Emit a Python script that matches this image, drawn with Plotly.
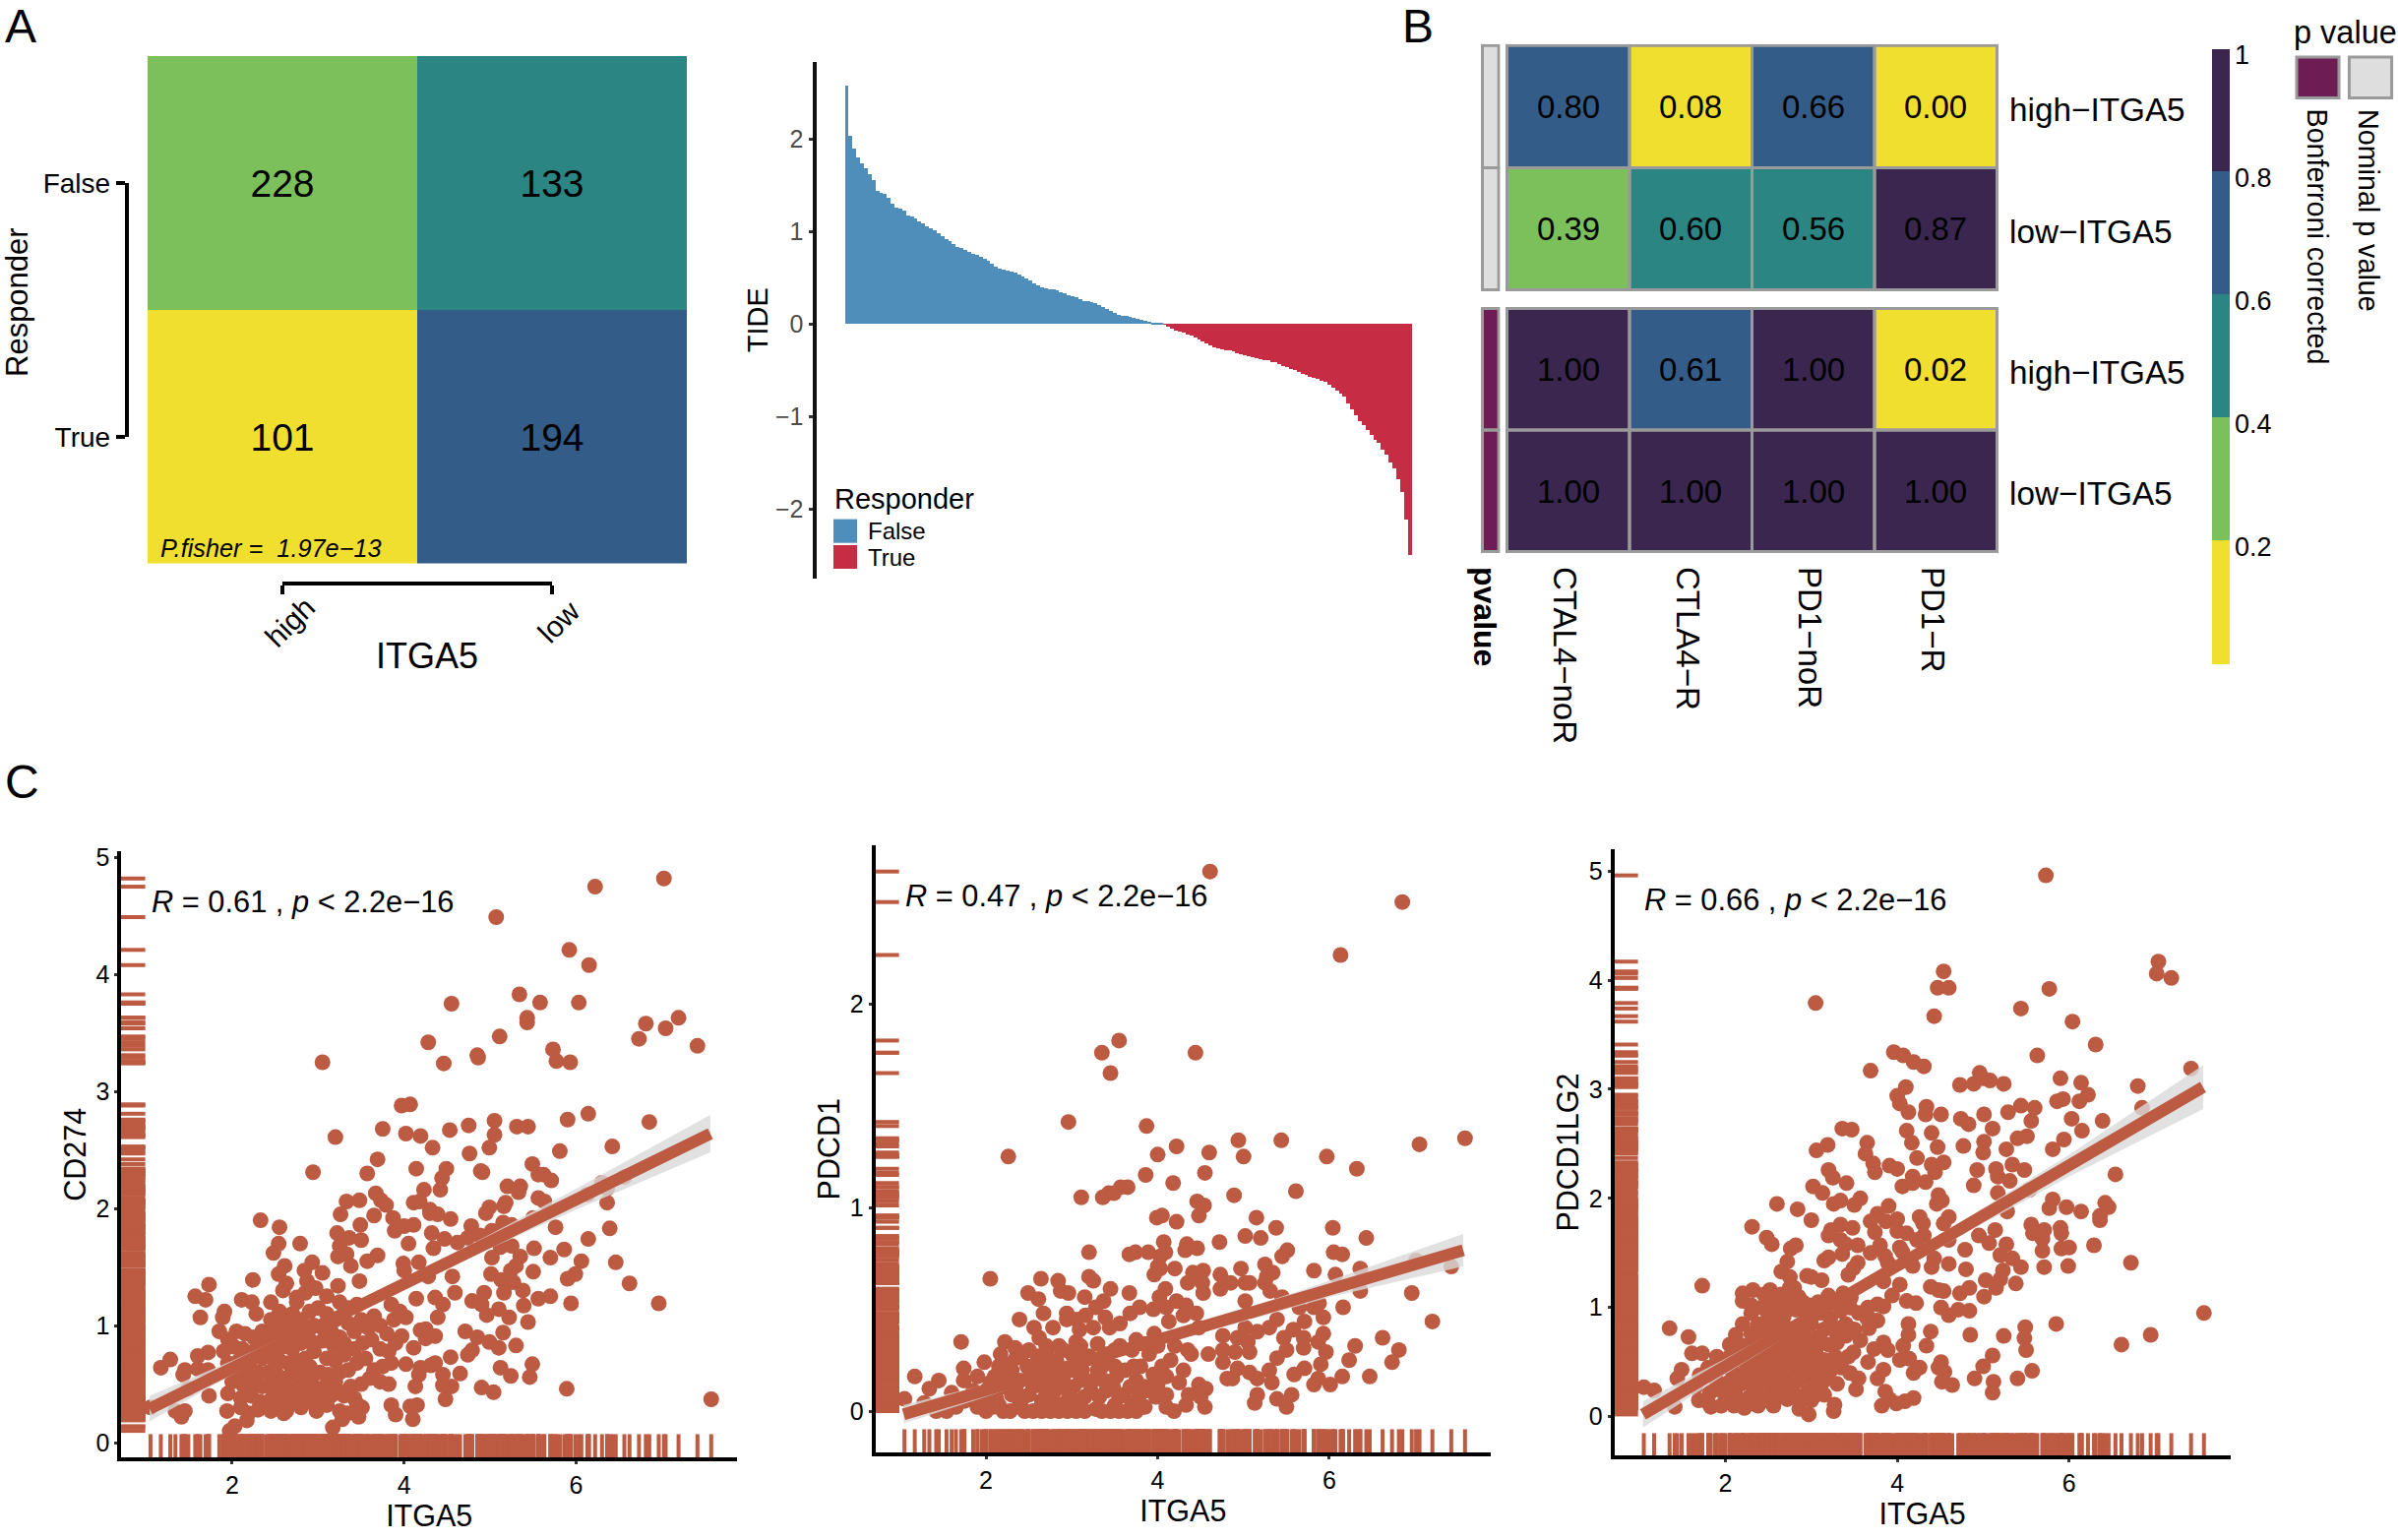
import plotly.graph_objects as go

FONT = "Liberation Sans"
W, H = 2437, 1565
YELLOW, GREEN, TEAL, BLUE, DARK = "#F0DF2F", "#7BC05A", "#2A8583", "#335C88", "#3B2650"
PURPLE, LGRAY, EDGE = "#6E1D54", "#DEDEDE", "#9A9A9A"
BAR_F, BAR_T, DOT = "#4F8DBA", "#C72C45", "#BC5A42"

# ---- data: panel A
itga5_levels = ["high", "low"]
responder_levels = ["False", "True"]
counts = [[228, 133], [101, 194]]
tide_false = [2.58, 2.03, 1.89, 1.80, 1.73, 1.68, 1.62, 1.55, 1.44, 1.42, 1.40, 1.36, 1.30, 1.26, 1.25, 1.22, 1.17,
              1.16, 1.14, 1.11, 1.08, 1.05, 1.03, 1.01, .98, .95, .91, .89, .86, .83, .82, .80, .78, .76, .74, .72,
              .70, .68, .65, .62, .60, .59, .57, .56, .55, .53, .51, .49, .47, .44, .41, .39, .385, .375, .37, .36,
              .34, .325, .31, .295, .285, .27, .25, .24, .23, .22, .20, .18, .16, .14, .115, .10, .09, .08, .075,
              .065, .05, .04, .03, .025, .015, .01, .003]
tide_true = [-.01, -.03, -.05, -.07, -.085, -.10, -.12, -.13, -.15, -.165, -.19, -.21, -.235, -.25, -.265, -.275,
             -.285, -.29, -.30, -.315, -.33, -.34, -.35, -.36, -.37, -.38, -.39, -.395, -.41, -.42, -.44, -.455,
             -.47, -.49, -.505, -.52, -.54, -.55, -.57, -.585, -.60, -.615, -.63, -.66, -.69, -.72, -.75, -.79,
             -.86, -.93, -.99, -1.05, -1.10, -1.15, -1.20, -1.25, -1.29, -1.36, -1.42, -1.50, -1.56, -1.68, -1.82,
             -2.12, -2.50]

# ---- data: panel B
b_columns = ["CTAL4\u2212noR", "CTLA4\u2212R", "PD1\u2212noR", "PD1\u2212R"]
b_rows = ["high\u2212ITGA5", "low\u2212ITGA5"]
nominal_p = [[0.80, 0.08, 0.66, 0.00], [0.39, 0.60, 0.56, 0.87]]
bonferroni_p = [[1.00, 0.61, 1.00, 0.02], [1.00, 1.00, 1.00, 1.00]]
colorbar_ticks = [.2, .4, .6, .8, 1]
colorbar_text = ["0.2", "0.4", "0.6", "0.8", "1"]

# ---- data: panel C
cd274_points = [(7.02,4.82),(6.22,4.75),(5.07,4.49),(5.92,4.21),(6.15,4.08),(5.34,3.83),(5.58,3.76),(6.03,3.76),(4.55,3.75),(5.43,3.63),(5.43,3.59),(7.19,3.63),(6.81,3.58),(7.04,3.54),(5.11,3.47),(6.73,3.45),(4.28,3.42),(7.41,3.39),(5.73,3.36),(4.85,3.31),(4.86,3.29),(5.77,3.26),(5.93,3.25),(4.46,3.24),(3.05,3.25),(3.97,2.88),(4.07,2.89),(5.9,2.76),(6.14,2.81),(6.85,2.74),(5.05,2.75),(5.31,2.7),(5.44,2.7),(4.75,2.71),(4.53,2.67),(3.75,2.68),(4.02,2.64),(3.2,2.61),(4.19,2.62),(5.05,2.63),(4.33,2.52),(4.99,2.52),(6.42,2.53),(5.81,2.49),(4.76,2.47),(3.69,2.42),(4.49,2.34),(4.14,2.34),(5.49,2.38),(2.94,2.31),(3.57,2.3),(4.89,2.32),(4.91,2.31),(4.44,2.26),(5.56,2.29),(5.62,2.29),(5.71,2.24),(6.56,2.27),(6.3,2.22),(5.2,2.19),(5.35,2.19),(5.33,2.14),(4.23,2.16),(4.42,2.16),(3.67,2.13),(6.36,2.17),(6.13,2.12),(3.73,2.07),(3.79,2.03),(3.33,2.06),(3.48,2.07),(4.11,2.05),(4.18,2.06),(5.56,2.09),(5.63,2.06),(6.36,2.05),(4.99,2.01),(5.18,2.05),(5.16,2.02),(4.3,1.99),(4.3,1.96),(4.39,1.95),(3.26,1.95),(4.95,1.96),(4.54,1.91),(3.65,1.94),(3.87,1.92),(2.33,1.9),(5.5,1.92),(2.55,1.84),(5.76,1.84),(3.49,1.86),(6.39,1.83),(3.89,1.81),(4.0,1.85),(4.11,1.86),(4.78,1.85),(5.15,1.88),(5.25,1.86),(4.32,1.79),(3.22,1.79),(5.02,1.81),(4.88,1.77),(4.74,1.75),(3.36,1.75),(3.5,1.73),(4.47,1.74),(4.62,1.71),(2.79,1.7),(2.54,1.7),(6.14,1.74),(4.05,1.7),(3.25,1.68),(4.34,1.66),(5.12,1.67),(5.25,1.68),(5.51,1.66),(5.86,1.65),(2.48,1.62),(3.33,1.61),(3.69,1.6),(3.23,1.59),(5.02,1.58),(5.35,1.59),(3.57,1.55),(2.93,1.54),(4.17,1.54),(5.7,1.58),(6.06,1.55),(6.46,1.54),(2.61,1.51),(3.38,1.51),(3.99,1.53),(5.3,1.51),(5.24,1.47),(2.84,1.47),(3.05,1.45),(2.54,1.44),(5.5,1.46),(5.01,1.44),(4.0,1.47),(5.99,1.44),(5.9,1.4),(2.24,1.39),(2.87,1.38),(3.48,1.38),(4.56,1.42),(4.28,1.42),(5.13,1.39),(5.27,1.37),(6.62,1.36),(1.73,1.35),(2.63,1.36),(3.23,1.34),(2.97,1.32),(1.57,1.25),(2.59,1.3),(5.16,1.28),(5.38,1.3),(4.59,1.28),(4.93,1.28),(2.11,1.22),(2.23,1.2),(1.69,1.22),(2.75,1.24),(5.56,1.23),(5.7,1.25),(4.79,1.21),(4.36,1.24),(4.14,1.23),(5.94,1.19),(6.96,1.19),(2.28,1.1),(1.91,1.12),(1.63,1.07),(5.1,1.14),(5.39,1.17),(4.9,1.18),(4.45,1.18),(3.85,1.18),(3.45,1.18),(4.96,1.09),(4.02,1.07),(4.39,1.07),(5.22,1.07),(5.44,1.03),(1.89,1.07),(4.71,.95),(4.25,.97),(5.15,.94),(4.19,.96),(4.85,.9),(4.36,.91),(4.25,.89),(3.97,.91),(4.99,.86),(5.3,.83),(5.1,.81),(4.11,.81),(4.74,.75),(4.79,.79),(4.54,.73),(4.36,.68),(4.02,.67),(4.19,.64),(4.31,.66),(4.65,.59),(4.45,.58),(5.12,.64),(5.24,.57),(5.49,.67),(5.46,.56),(4.17,.58),(4.13,.48),(4.55,.48),(4.45,.49),(4.9,.47),(5.04,.43),(5.89,.46),(4.48,.37),(7.57,.37),(4.15,.32),(4.07,.31),(3.85,.32),(3.9,.24),(4.1,.2),(3.51,.3),(3.45,.33),(3.47,.22),(3.34,.25),(3.25,.27),(3.28,.2),(3.17,.13),(2.98,.27),(2.63,.27),(2.17,.19),(2.03,.14),(1.97,.1),(2.19,.25),(1.94,.27),(1.41,.22),(1.34,.27),(1.45,.27),(1.05,.3),(1.17,.64),(1.28,.71),(1.45,.62),(1.43,.58),(1.6,.74),(1.72,.77),(1.6,.63),(1.72,.62),(1.73,.4),(1.49,.46),
(1.85,.95),(1.95,.88),(2.05,.95),(2.15,.93),(2.25,.9),(1.9,.78),(2.02,.82),(2.12,.8),(2.3,.82),(2.4,.9),(2.5,.98),(2.6,1.05),(2.45,1.05),(2.55,1.12),(2.7,1.1),(2.8,1.05),(2.9,1.12),(3.0,1.15),(3.1,1.1),(3.2,1.05),(2.65,.95),(2.75,.92),(2.85,.98),(2.95,1.0),(3.05,.98),(3.15,.95),(3.25,.9),(2.5,.85),(2.6,.82),(2.7,.8),(2.8,.85),(2.9,.88),(3.05,.87),(3.18,.83),(2.35,.72),(2.45,.75),(2.55,.7),(2.65,.68),(2.75,.7),(2.85,.72),(3.1,.72),(3.2,.7),(3.3,.75),(1.95,.68),(2.08,.7),(2.2,.65),(2.3,.6),(2.42,.6),(2.52,.58),(2.62,.55),(2.72,.58),(2.82,.6),(2.92,.55),(3.02,.6),(3.12,.58),(3.25,.6),(2.0,.52),(2.12,.5),(2.25,.5),(2.35,.48),(2.47,.45),(2.58,.42),(2.7,.45),(2.8,.5),(2.95,.47),(3.08,.48),(3.22,.45),(1.95,.42),(2.1,.38),(2.22,.4),(2.32,.35),(2.42,.35),(2.55,.33),(2.68,.35),(2.78,.38),(2.88,.35),(3.0,.38),(3.15,.4),
(3.35,1.02),(3.42,.95),(3.5,1.05),(3.58,.98),(3.65,1.08),(3.72,1.0),(3.8,.93),(3.88,1.05),(3.95,1.12),(3.3,.85),(3.42,.8),(3.52,.85),(3.62,.88),(3.72,.8),(3.82,.78),(3.9,.85),(3.35,.62),(3.45,.68),(3.55,.72),(3.65,.62),(3.75,.65),(3.85,.68),(3.38,.48),(3.5,.5),(3.6,.55),(3.72,.52),(3.82,.5),(3.3,.4),(3.42,.38),(2.75,1.2),(2.85,1.28),(3.1,1.25),(3.25,1.2),(3.35,1.15),(2.45,1.2),(2.5,.65),(2.7,.62),(2.9,.65),(2.55,.95),(2.75,1.0),(2.95,.78),(2.35,.95),(2.25,.78),(2.15,.58),(2.05,.62),(2.6,.48),(2.85,.43),(3.05,.42),(3.2,.52),(2.45,.52),(2.2,.7),(2.1,.3),(2.3,.28),(2.45,.27),(2.6,.25),(2.8,.3),(2.92,.42),(3.1,.32)]

pdcd1_points = [(4.61,2.65),(6.85,2.5),(6.13,2.24),(3.55,1.82),(3.35,1.76),(4.44,1.76),(3.45,1.66),(2.96,1.42),(3.87,1.4),(7.58,1.34),(4.94,1.33),(5.44,1.33),(7.05,1.31),(4.22,1.3),(4.6,1.27),(2.26,1.25),(4.0,1.26),(5.0,1.25),(5.97,1.25),(6.32,1.19),(4.55,1.17),(3.86,1.16),(4.18,1.12),(3.57,1.1),(3.65,1.1),(5.61,1.08),(4.89,1.06),(3.11,1.05),(3.36,1.05),(3.43,1.07),(3.49,1.07),(4.46,1.03),(4.54,1.01),(4.48,.96),(4.05,.96),(3.99,.95),(5.15,.95),(4.22,.93),(5.38,.9),(6.04,.9),(5.02,.86),(5.2,.85),(6.43,.85),(4.07,.83),(4.72,.83),(4.34,.82),(4.32,.79),(4.46,.8),(5.51,.79),(5.45,.76),(3.2,.78),(3.67,.77),(3.74,.78),(3.89,.78),(4.09,.78),(4.03,.76),(6.05,.78),(6.15,.77),(7.01,.74),(4.0,.71),(4.03,.7),(4.2,.7),(5.25,.72),(4.97,.7),(6.36,.7),(7.42,.71),(5.82,.69),(4.41,.68),(4.53,.69),(5.34,.68),(2.64,.65),(2.05,.65),(3.2,.66),(3.96,.67),(4.73,.67),(5.27,.66),(6.07,.67),(3.25,.64),(2.84,.64),(4.85,.63),(5.02,.63),(5.07,.63),(4.52,.63),(4.35,.63),(5.25,.63),(4.73,.6),(3.45,.6),(5.31,.59),(4.09,.6),(2.87,.59),(2.96,.58),(4.53,.58),(6.36,.59),(6.96,.58),(2.49,.58),(3.67,.58),(2.61,.55),(3.15,.56),(4.02,.56),(5.45,.56),(3.37,.54),(4.22,.54),(5.02,.54),(4.33,.52),(4.1,.51),(3.28,.51),(3.79,.51),(3.95,.5),(5.65,.51),(5.82,.51),(5.88,.53),(6.16,.51),(2.67,.48),(2.94,.48),(4.45,.48),(4.3,.47),(3.68,.48),(3.16,.47),(2.39,.45),(2.94,.45),(3.05,.45),(3.39,.46),(4.13,.44),(5.39,.45),(5.93,.46),(5.71,.44),(7.2,.44),(2.56,.41),(2.78,.41),(3.56,.43),(3.25,.41),(3.09,.4),(5.02,.41),(5.3,.41),(5.58,.4),(3.44,.41),(4.48,.41),(4.76,.37),(5.16,.39),(5.93,.38),(2.62,.36),(3.96,.38),(5.47,.36),(4.93,.36),(5.7,.36),(6.62,.36),(1.71,.34),(2.22,.34),(3.75,.35),(3.05,.34),(2.85,.32),(5.05,.34),(5.87,.34),(2.34,.31),(6.3,.32),(5.7,.31),(6.81,.3),(2.71,.3),(3.56,.32),(5.5,.3),(4.76,.3),(4.9,.29),(5.07,.29),(5.96,.29),(2.17,.28),(4.39,.28),(4.59,.28),(5.39,.26),(6.23,.25),(6.73,.24),(4.76,.24),(1.74,.21),(1.98,.24),(5.9,.23),(5.71,.21),(4.93,.21),(5.07,.19),(5.59,.18),(5.3,.2),(6.47,.17),(6.15,.17),(4.87,.16),(4.81,.16),(1.17,.17),(1.45,.15),(1.74,.15),(1.34,.11),(5.87,.16),(5.82,.13),(6.01,.13),(5.16,.16),(5.33,.14),(4.48,.13),(4.56,.11),(1.05,.06),(5.56,.08),(5.16,.08),(4.1,.08),(4.36,.08),(5.13,.04),(5.39,.06),(5.5,.02),(4.55,.02),(4.33,.03),(4.19,0),(3.82,.02),(4.5,.07),(1.6,.09),(1.28,.04),(1.42,0),(1.54,0),
(1.75,.05),(1.85,.1),(1.9,.02),(2.0,.1),(2.0,0),(2.1,.17),(2.12,.06),(2.2,.12),(2.2,0),(2.3,.2),(2.3,.08),(2.38,.02),(2.4,.15),(2.48,.22),(2.5,.08),(2.55,0),(2.6,.27),(2.6,.15),(2.65,.05),(2.72,.2),(2.75,0),(2.8,.1),(2.82,.25),(2.9,.17),(2.92,.04),(3.0,.28),(3.02,.12),(3.05,0),(3.12,.2),(3.15,.07),(3.2,.27),(3.25,.15),(3.28,.01),(3.35,.22),(3.4,.1),(3.42,.28),(3.5,.03),(3.52,.17),(3.6,.08),(3.62,.2),(3.7,.04),(3.75,.15),(3.8,.22),(3.85,.12),(3.95,.18),(4.05,.22),(4.15,.25),(4.3,.2),(3.9,.28),(2.35,.26),(2.15,.22),(1.9,.17),(1.65,.02),(2.45,0),(2.95,0),(3.15,.0),(3.45,0),(3.65,.0),(2.7,.09),(3.0,.06),
(2.05,.14),(2.15,.03),(2.25,.18),(2.35,.1),(2.42,.06),(2.55,.12),(2.58,.2),(2.68,.15),(2.7,.24),(2.78,.05),(2.85,.15),(2.88,.03),(2.95,.1),(2.98,.2),(3.08,.05),(3.1,.15),(3.12,.26),(3.22,.1),(3.3,.2),(3.32,.07),(3.38,.15),(3.48,.12),(3.5,.22),(3.55,.07),(3.68,.12),(3.72,.22),(3.78,.07),(3.9,.1),(4.0,.13),(4.1,.17),(4.25,.14),(2.5,.3),(2.7,.32),(2.9,.3),(3.1,.32),(3.3,.33),(3.5,.3),(3.7,.3),(3.85,.33),(4.0,.32),(4.2,.32),(4.35,.3),(2.25,.23),(2.42,.28),(1.95,.06),(2.08,.02),(2.28,.0),(2.65,.0),(2.85,.0),(3.35,.0),(3.55,.0),(3.75,.0),(3.85,.02),(3.98,.07),(4.1,.02)]

pdcd1lg2_points = [(5.73,4.96),(7.04,4.17),(4.54,4.08),(7.02,4.06),(7.19,4.02),(4.47,3.93),(4.6,3.93),(5.77,3.92),(3.05,3.79),(5.44,3.74),(4.43,3.67),(6.04,3.62),(6.31,3.41),(3.96,3.34),(4.07,3.31),(5.63,3.31),(4.19,3.25),(4.31,3.21),(7.42,3.19),(3.69,3.17),(4.96,3.15),(5.9,3.1),(6.14,3.06),(4.73,3.04),(4.89,3.05),(5.08,3.08),(5.24,3.05),(5.0,3.1),(6.8,3.03),(4.1,3.02),(6.22,2.95),(4.0,2.94),(5.93,2.91),(5.86,2.89),(4.03,2.87),(5.44,2.85),(5.6,2.83),(6.12,2.89),(4.34,2.84),(6.85,2.83),(4.13,2.79),(4.33,2.77),(4.51,2.77),(5.29,2.79),(5.01,2.77),(6.03,2.73),(4.74,2.73),(4.83,2.68),(5.56,2.71),(6.39,2.71),(3.36,2.64),(3.47,2.63),(5.11,2.64),(4.11,2.62),(4.4,2.6),(6.15,2.62),(5.51,2.57),(5.4,2.55),(4.17,2.51),(5.01,2.52),(3.65,2.51),(3.19,2.49),(5.94,2.54),(4.77,2.48),(4.47,2.47),(3.06,2.44),(5.81,2.45),(5.27,2.45),(5.0,2.42),(3.63,2.41),(4.23,2.37),(3.72,2.32),(4.4,2.31),(4.54,2.33),(5.34,2.31),(3.91,2.3),(4.0,2.27),(4.93,2.26),(5.15,2.27),(5.48,2.26),(3.2,2.26),(3.74,2.24),(4.44,2.24),(4.18,2.2),(6.54,2.22),(5.17,2.2),(3.25,2.19),(5.31,2.16),(3.41,2.14),(4.33,2.15),(4.18,2.14),(4.06,2.11),(4.89,2.12),(3.02,2.11),(5.54,2.08),(3.13,2.05),(4.48,2.03),(5.17,2.05),(4.52,1.98),(4.46,1.95),(2.6,1.95),(3.57,2.0),(3.26,1.95),(3.34,1.98),(3.5,1.94),(5.81,1.99),(3.9,1.93),(5.97,1.92),(5.77,1.91),(2.84,1.9),(6.42,1.96),(6.46,1.92),(6.14,1.88),(5.28,1.88),(3.77,1.86),(6.36,1.84),(4.26,1.83),(4.6,1.83),(3.0,1.8),(3.69,1.79),(3.87,1.79),(4.0,1.81),(6.36,1.8),(4.3,1.77),(4.54,1.77),(3.34,1.76),(5.56,1.76),(2.31,1.74),(3.48,1.73),(5.9,1.73),(3.23,1.71),(3.74,1.69),(4.0,1.7),(4.11,1.68),(5.14,1.71),(5.71,1.71),(5.58,1.68),(5.91,1.68),(3.2,1.66),(4.95,1.66),(2.48,1.64),(4.31,1.66),(5.69,1.63),(4.6,1.62),(3.34,1.62),(4.23,1.62),(2.54,1.58),(5.07,1.59),(3.4,1.58),(3.54,1.57),(3.8,1.57),(5.27,1.58),(6.29,1.57),(2.82,1.57),(2.76,1.54),(5.91,1.54),(6.0,1.55),(4.79,1.53),(4.03,1.55),(5.69,1.52),(3.69,1.5),(4.06,1.51),(3.36,1.49),(3.2,1.46),(3.86,1.47),(5.2,1.48),(4.43,1.45),(3.15,1.43),(5.34,1.45),(2.72,1.42),(6.72,1.41),(3.54,1.41),(3.89,1.41),(4.18,1.38),(4.6,1.4),(4.4,1.37),(5.44,1.37),(5.71,1.37),(5.99,1.38),(2.65,1.33),(3.49,1.36),(3.43,1.3),(4.8,1.35),(5.23,1.34),(2.75,1.28),(2.95,1.29),(3.0,1.28),(3.12,1.25),(5.03,1.25),(5.2,1.26),(3.84,1.24),(5.38,1.22),(1.73,1.2),(4.03,1.21),(4.39,1.19),(2.8,1.18),(5.15,1.18),(4.84,1.18),(4.48,1.16),(2.52,1.16),(2.32,1.16),(2.2,1.13),(3.37,1.13),(4.73,1.13),(4.54,1.15),(3.2,1.11),(3.94,1.11),(5.01,1.1),(3.46,1.09),(4.11,1.06),(4.22,1.04),(2.2,1.06),(3.77,1.03),(3.84,1.01),(3.66,1.0),(4.51,1.0),(4.71,.98),(4.84,.97),(4.6,.93),(7.57,.95),(3.34,.97),(3.72,.88),(3.77,.88),(4.13,.85),(5.85,.85),(3.67,.81),(5.49,.82),(1.35,.81),(4.13,.75),(4.39,.78),(3.34,.81),(4.85,.75),(5.24,.74),(6.95,.75),(5.48,.72),(1.57,.73),(3.4,.74),(3.57,.7),(3.84,.68),(6.61,.66),(4.34,.65),(4.07,.65),(5.5,.61),(3.73,.62),(3.89,.61),(1.61,.58),(1.73,.58),(3.49,.59),(5.11,.56),(3.43,.55),(4.03,.52),(4.14,.53),(4.51,.5),(3.66,.5),(5.0,.46),(4.48,.45),(4.55,.41),(4.26,.45),(4.19,.4),(5.57,.42),(3.84,.43),(1.49,.43),(3.77,.35),(5.4,.35),(4.9,.35),(4.52,.32),(5.12,.32),(4.64,.29),(1.05,.27),(1.17,.24),(1.44,.35),(3.52,.25),(3.86,.23),(5.11,.22),(4.19,.17),(3.91,.16),(4.09,.14),(3.99,.12),(3.82,.1),(1.41,.09),(3.26,.05),(3.06,.2),(3.27,.11),(2.97,.02),(2.86,.07),(2.56,.1),(1.83,.09),(1.69,.15),
(2.55,1.08),(2.42,1.0),(2.6,1.0),(2.72,1.05),(2.85,1.1),(2.98,1.02),(3.08,1.05),(2.3,.95),(2.5,.93),(2.68,.92),(2.82,.98),(2.95,.92),(3.1,.95),(3.22,.9),(2.2,.85),(2.38,.85),(2.55,.85),(2.7,.82),(2.88,.82),(3.0,.85),(3.15,.8),(3.28,.78),(2.12,.75),(2.3,.76),(2.45,.76),(2.6,.74),(2.78,.72),(2.92,.74),(3.05,.72),(2.48,.68),(2.62,.66),(2.75,.63),(2.9,.65),(3.05,.6),(3.2,.66),(2.05,.66),(2.2,.65),(2.35,.66),(2.4,.58),(2.55,.58),(2.68,.55),(2.85,.55),(3.0,.5),(3.15,.52),(3.28,.55),(1.9,.55),(2.05,.55),(2.2,.52),(2.32,.5),(2.45,.48),(2.6,.47),(2.75,.45),(2.92,.43),(3.1,.42),(3.22,.42),(1.8,.45),(1.95,.45),(2.08,.42),(2.25,.42),(2.38,.38),(2.52,.38),(2.68,.37),(2.85,.33),(3.0,.33),(1.7,.38),(1.9,.33),(2.05,.32),(2.18,.3),(2.32,.28),(2.48,.27),(2.62,.27),(2.78,.24),(2.95,.22),(3.12,.3),(1.65,.27),(1.82,.22),(1.98,.22),(2.12,.2),(2.28,.18),(2.42,.18),(1.8,.13),(1.95,.1),(2.1,.1),(2.22,.08),(2.38,.1),
(2.3,1.02),(2.45,1.12),(2.65,1.12),(2.75,1.18),(2.9,1.05),(2.6,.9),(2.5,.8),(2.65,.8),(2.8,.78),(2.95,.68),(3.12,.68),(2.35,.72),(2.55,.7),(2.7,.7),(2.85,.62),(2.55,.52),(2.7,.5),(2.85,.5),(2.98,.58),(2.4,.45),(2.55,.43),(2.7,.4),(2.88,.38),(3.05,.38),(3.18,.35),(2.25,.6),(2.15,.58),(2.0,.48),(2.15,.38),(2.3,.35),(2.45,.33),(2.6,.32),(2.72,.3),(1.88,.25),(2.05,.15),(2.2,.14),(2.32,.12),(2.48,.15),(2.6,.18),(2.42,.25),(3.3,.68),(3.4,.85),(3.5,.8),(3.45,1.0),(3.55,.95),(3.65,.9),(3.35,.45),(3.45,.4),(3.55,.35),(3.3,.3),(3.15,.2),(3.0,.15),(2.85,.17),(2.72,.16)]

fit_x = [1.04, 7.56]
cd274_fit = [0.29, 2.64]
pdcd1_fit = [-0.016, 0.79]
pdcd1lg2_fit = [0.02, 3.02]
band_x = [1.04, 2.0, 3.0, 4.0, 5.0, 6.0, 7.56]
cd274_hi = [.40, .70, 1.04, 1.40, 1.78, 2.17, 2.80]
cd274_lo = [.18, .58, .96, 1.32, 1.66, 1.99, 2.48]
pdcd1_hi = [.03, .13, .25, .37, .50, .64, .87]
pdcd1_lo = [-.06, .07, .21, .33, .44, .56, .71]
pdcd1lg2_hi = [.14, .53, .97, 1.43, 1.91, 2.40, 3.22]
pdcd1lg2_lo = [-.10, .39, .87, 1.33, 1.77, 2.20, 2.82]


def dx(a, b):
    return [a / W, b / W]


def dy(top, bot):
    return [1 - bot / H, 1 - top / H]


annotations, shapes = [], []


def label(text, x, y, size, xa="left", ya="middle", angle=0, color="black"):
    annotations.append(dict(text=text, x=x / W, y=1 - y / H, xref="paper", yref="paper", xanchor=xa, yanchor=ya,
                            textangle=angle, showarrow=False, borderpad=0,
                            font=dict(family=FONT, size=size, color=color)))


fig = go.Figure()
layout = {}

# ---- Panel A heatmap
step4 = [[0, YELLOW], [(133 - 101) / 127, TEAL], [(194 - 101) / 127, BLUE], [1, GREEN]]
fig.add_trace(go.Heatmap(z=counts, x=itga5_levels, y=responder_levels, colorscale=step4, showscale=False,
                         text=[[str(v) for v in row] for row in counts], texttemplate="%{text}",
                         textfont=dict(family=FONT, size=39, color="black"),
                         xaxis="x", yaxis="y", hoverinfo="skip"))
layout["xaxis"] = dict(domain=dx(150, 698), visible=False, anchor="y", type="category")
layout["yaxis"] = dict(domain=dy(57, 572.5), visible=False, anchor="x", type="category", autorange="reversed")
fig.add_trace(go.Scatter(x=itga5_levels, y=responder_levels, mode="markers", marker=dict(opacity=0), hoverinfo="skip",
                         xaxis="x2", yaxis="y2"))
layout["xaxis2"] = dict(domain=dx(287, 561), type="category", range=[0, 1], anchor="free", position=1 - 593 / H,
                        showline=True, linecolor="black", linewidth=3.5, ticks="outside", ticklen=9, tickwidth=3.5,
                        tickcolor="black", showticklabels=False, showgrid=False, zeroline=False,
                        categoryorder="array", categoryarray=itga5_levels)
layout["yaxis2"] = dict(domain=dy(186, 444), type="category", range=[1, 0], anchor="free", position=128.5 / W,
                        showline=True, linecolor="black", linewidth=3.5, ticks="outside", ticklen=9, tickwidth=3.5,
                        tickcolor="black", showgrid=False, zeroline=False,
                        categoryorder="array", categoryarray=responder_levels,
                        tickfont=dict(family=FONT, size=28, color="black"))
label("<i>P.fisher =  1.97e\u221213</i>", 162, 557, 25.3)
label("high", 294, 632, 30, "center", "middle", -45)
label("low", 567, 632, 30, "center", "middle", -45)
label("ITGA5", 434, 666, 36, "center", "middle")
label("Responder", 18, 307, 31, "center", "middle", -90)
label("A", 4, 27, 48)
label("B", 1424, 27, 48)
label("C", 4, 794, 48)

# ---- Panel A bars
n_bars = len(tide_false) + len(tide_true)
step = (1434 - 858) / n_bars
fig.add_trace(go.Bar(x=list(range(len(tide_false))), y=tide_false, marker=dict(color=BAR_F, line=dict(width=0)),
                     xaxis="x3", yaxis="y3", name="False"))
fig.add_trace(go.Bar(x=list(range(len(tide_false), n_bars)), y=tide_true, marker=dict(color=BAR_T, line=dict(width=0)),
                     xaxis="x3", yaxis="y3", name="True"))
layout["xaxis3"] = dict(domain=dx(829.5, 1462), visible=False, anchor="y3",
                        range=[-0.5 - (858 - 829.5) / step, n_bars - 0.5 + (1462 - 1434) / step])
layout["yaxis3"] = dict(domain=dy(63, 587.5), range=[-2.75, 2.83], anchor="x3", tickvals=[-2, -1, 0, 1, 2],
                        ticktext=["\u22122", "\u22121", "0", "1", "2"], showline=True, linecolor="#111111", linewidth=4,
                        ticks="outside", ticklen=4, tickwidth=3, tickcolor="#333333", showgrid=False, zeroline=False,
                        tickfont=dict(family=FONT, size=25, color="#4D4D4D"),
                        title=dict(text="TIDE", font=dict(family=FONT, size=29, color="black"), standoff=0))
label("Responder", 847, 507, 29)
for (top, bot, col, txt) in [(527.6, 551.7, BAR_F, "False"), (554, 578, BAR_T, "True")]:
    shapes.append(dict(type="rect", xref="paper", yref="paper", x0=847 / W, x1=871 / W, y0=1 - bot / H, y1=1 - top / H,
                       fillcolor=col, line=dict(width=0)))
    label(txt, 881, (top + bot) / 2, 24)

# ---- Panel B heatmaps
scale = [[0, YELLOW], [.201, YELLOW], [.201, GREEN], [.401, GREEN], [.401, TEAL], [.601, TEAL], [.601, BLUE],
         [.801, BLUE], [.801, DARK], [1, DARK]]
layout["coloraxis"] = dict(colorscale=scale, cmin=0, cmax=1,
                           colorbar=dict(x=2247.5 / W, xanchor="left", y=1 - 49.7 / H, yanchor="top",
                                         len=625 / H, lenmode="fraction", thickness=18, thicknessmode="pixels",
                                         xpad=0, ypad=0, outlinewidth=0, tickvals=colorbar_ticks, ticks="",
                                         showticklabels=False))
for v, t in zip(colorbar_ticks, colorbar_text):
    label(t, 2270, 49.7 + (1 - v) * 625 + 6, 27)
blocks = [(nominal_p, "4", "6", 44.8, 296, LGRAY), (bonferroni_p, "5", "7", 312, 562, PURPLE)]
for z, main, side, top, bot, side_col in blocks:
    fig.add_trace(go.Heatmap(z=z, x=b_columns, y=b_rows, coloraxis="coloraxis", text=[[f"{v:.2f}" for v in r] for r in z],
                             texttemplate="%{text}", textfont=dict(family=FONT, size=33, color="black"),
                             xaxis="x" + main, yaxis="y" + main, hoverinfo="skip"))
    fig.add_trace(go.Heatmap(z=[[0], [0]], x=["pvalue"], y=b_rows, colorscale=[[0, side_col], [1, side_col]],
                             showscale=False, xaxis="x" + side, yaxis="y" + side, hoverinfo="skip"))
    is_bottom = main == "5"
    layout["xaxis" + main] = dict(domain=dx(1530, 2031), type="category", anchor="y" + main, showgrid=False, zeroline=False,
                                  showticklabels=is_bottom, ticks="", tickangle=90, ticklabelstandoff=13, ticklabelshift=-4,
                                  tickfont=dict(family=FONT, size=33, color="black"))
    layout["yaxis" + main] = dict(domain=dy(top, bot), type="category", anchor="x" + main, autorange="reversed", side="right",
                                  showgrid=False, zeroline=False, ticks="", ticklabelstandoff=10, ticklabelshift=-3,
                                  tickfont=dict(family=FONT, size=33.3, color="black"))
    layout["xaxis" + side] = dict(domain=dx(1505, 1524.6), type="category", anchor="y" + side, showgrid=False, zeroline=False,
                                  showticklabels=is_bottom, ticks="", tickangle=90, ticklabelstandoff=13, ticklabelshift=-6,
                                  tickvals=["pvalue"], ticktext=["<b>pvalue</b>"],
                                  tickfont=dict(family=FONT, size=32, color="black"))
    layout["yaxis" + side] = dict(domain=dy(top, bot), type="category", anchor="x" + side, autorange="reversed",
                                  showgrid=False, zeroline=False, showticklabels=False, ticks="")
    for r in range(2):
        shapes.append(dict(type="rect", xref="x" + side, yref="y" + side, x0=-.5, x1=.5, y0=r - .5, y1=r + .5,
                           line=dict(color=EDGE, width=3), layer="above"))
        for c in range(4):
            shapes.append(dict(type="rect", xref="x" + main, yref="y" + main, x0=c - .5, x1=c + .5, y0=r - .5, y1=r + .5,
                               line=dict(color=EDGE, width=3), layer="above"))

label("p value", 2330, 33, 32.5)
for (x0, x1, col, txt, tx, ) in [(2334, 2377, PURPLE, "Bonferroni corrected", 2354), (2387.4, 2430.6, LGRAY, "Nominal p value", 2406.5)]:
    shapes.append(dict(type="rect", xref="paper", yref="paper", x0=x0 / W, x1=x1 / W, y0=1 - 99.5 / H, y1=1 - 58 / H,
                       fillcolor=col, line=dict(color=EDGE, width=3)))
    label(txt, tx, 109.5, 28.7, "center", "top", 90)

# ---- Panel C scatter panels
panels = [
    dict(n="8", pts=cd274_points, fit=cd274_fit, hi=cd274_hi, lo=cd274_lo, name="CD274", xd=(123.4, 749), yd=(865.4, 1481),
         xr=[.712, 7.87], yr=[-.126, 5.05], yt=[0, 1, 2, 3, 4, 5], rugx=.845, rugy=-.034, txt="0.61", tx=153, ty=916),
    dict(n="9", pts=pdcd1_points, fit=pdcd1_fit, hi=pdcd1_hi, lo=pdcd1_lo, name="PDCD1", xd=(889.6, 1515), yd=(859.4, 1476),
         xr=[.711, 7.88], yr=[-.203, 2.777], yt=[0, 1, 2], rugx=.842, rugy=-.15, txt="0.47", tx=919, ty=911),
    dict(n="10", pts=pdcd1lg2_points, fit=pdcd1lg2_fit, hi=pdcd1lg2_hi, lo=pdcd1lg2_lo, name="PDCD1LG2", xd=(1640.6, 2266.5),
         yd=(863, 1479), xr=[.707, 7.876], yr=[-.355, 5.2], yt=[0, 1, 2, 3, 4, 5], rugx=.838, rugy=-.265, txt="0.66", tx=1670, ty=914),
]
for p in panels:
    xs = [a for a, _ in p["pts"]]
    ys = [b for _, b in p["pts"]]
    ax = dict(xaxis="x" + p["n"], yaxis="y" + p["n"])
    fig.add_trace(go.Scatter(x=xs, y=[p["rugy"]] * len(xs), mode="markers", cliponaxis=False,
                             marker=dict(symbol="line-ns", size=18, line=dict(color=DOT, width=4)), **ax))
    fig.add_trace(go.Scatter(x=[p["rugx"]] * len(ys), y=ys, mode="markers", cliponaxis=False,
                             marker=dict(symbol="line-ew", size=18, line=dict(color=DOT, width=4)), **ax))
    fig.add_trace(go.Scatter(x=xs, y=ys, mode="markers", marker=dict(size=16, color=DOT, line=dict(width=0)), **ax))
    fig.add_trace(go.Scatter(x=band_x + band_x[::-1], y=p["hi"] + p["lo"][::-1], mode="lines", fill="toself",
                             fillcolor="rgba(217,217,217,0.8)", line=dict(width=0), **ax))
    fig.add_trace(go.Scatter(x=fit_x, y=p["fit"], mode="lines", line=dict(color=DOT, width=12), **ax))
    common = dict(showline=True, linecolor="black", linewidth=4, ticks="outside", ticklen=3, tickwidth=3,
                  tickcolor="#333333", showgrid=False, zeroline=False, tickfont=dict(family=FONT, size=25, color="black"))
    layout["xaxis" + p["n"]] = dict(domain=dx(*p["xd"]), range=p["xr"], anchor="y" + p["n"], tickvals=[2, 4, 6],
                                    title=dict(text="ITGA5", font=dict(family=FONT, size=30.5, color="black"), standoff=0), **common)
    layout["yaxis" + p["n"]] = dict(domain=dy(*p["yd"]), range=p["yr"], anchor="x" + p["n"], tickvals=p["yt"],
                                    title=dict(text=p["name"], font=dict(family=FONT, size=30.5, color="black"), standoff=2), **common)
    label(f"<i>R</i> = {p['txt']} , <i>p</i> &lt; 2.2e\u221216", p["tx"], p["ty"], 30.8)

fig.update_layout(width=W, height=H, margin=dict(l=0, r=0, t=0, b=0, autoexpand=False), paper_bgcolor="white",
                  plot_bgcolor="rgba(0,0,0,0)", showlegend=False, barmode="overlay", bargap=0,
                  annotations=annotations, shapes=shapes, **layout)
fig.write_html("out.html", config={"displayModeBar": False},
               post_script="document.body.style.margin='0';document.documentElement.style.overflow='hidden';")
